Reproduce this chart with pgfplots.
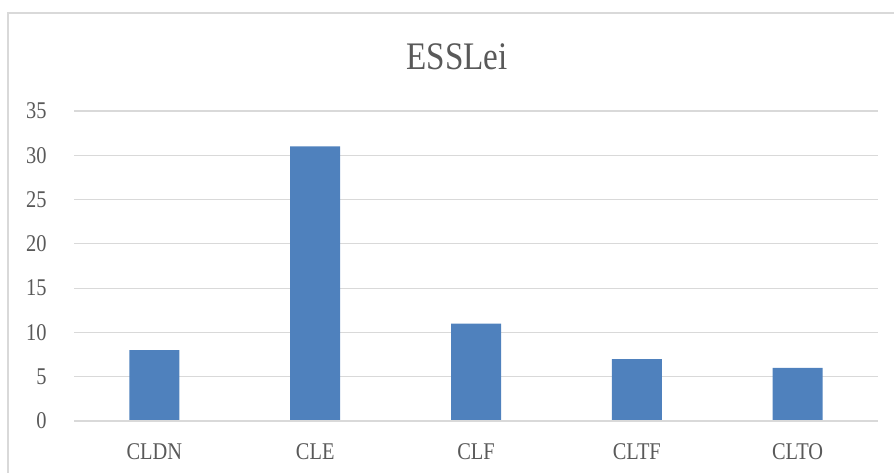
\documentclass[border=0pt]{standalone}
\usepackage{fontspec}
\usepackage{pgfplots}
\pgfplotsset{compat=1.18}
\setmainfont{Liberation Serif}
\newfontfamily\cf[FakeStretch=0.85]{Liberation Serif}
\definecolor{barblue}{HTML}{4F81BD}
\definecolor{gridgray}{HTML}{D9D9D9}
\definecolor{txtgray}{HTML}{595959}
\begin{document}
\begin{tikzpicture}
\useasboundingbox (0,0) rectangle (894bp,473bp);
\draw[gridgray, line width=1.2bp] (8bp,-10bp) rectangle (900bp,460bp);
\node[anchor=base, text=txtgray, font=\cf\fontsize{39bp}{41bp}\selectfont] at (457bp,403bp) {ESSLei};
\begin{axis}[
  at={(74bp,52bp)}, anchor=south west,
  scale only axis, width=804bp, height=310bp,
  xmin=-0.5, xmax=4.5, ymin=0, ymax=35,
  ytick={0,5,...,35},
  xtick=data,
  xticklabels={CLDN,CLE,CLF,CLTF,CLTO},
  axis line style={draw=none},
  ymajorgrids, grid style={gridgray, line width=1.2bp},
  major tick length=0pt,
  /pgf/number format/assume math mode=true,
  ticklabel style={text=txtgray, font=\cf\fontsize{24bp}{26bp}\selectfont},
  yticklabel style={xshift=-24bp},
  xticklabel style={yshift=-19bp},
  clip=false,
]
\addplot[ybar, bar width=50bp, fill=barblue, draw=none] coordinates {(0,8) (1,31) (2,11) (3,7) (4,6)};
\draw[gridgray, line width=2.5bp] (axis cs:-0.5,0) -- (axis cs:4.5,0);
\end{axis}
\end{tikzpicture}
\end{document}
